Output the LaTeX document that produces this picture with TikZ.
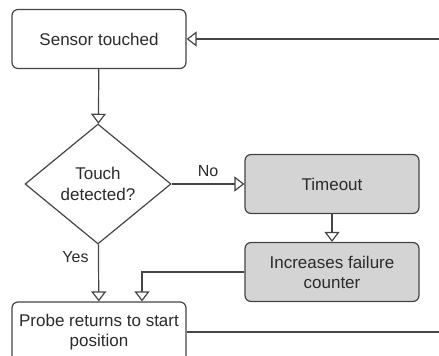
\documentclass[tikz,border=0pt]{standalone}
\usepackage{fontspec}
\setmainfont{Liberation Sans}
\usetikzlibrary{shapes.geometric, arrows.meta, positioning}
\definecolor{flowline}{HTML}{454545}
\definecolor{flowtext}{HTML}{2B2B2B}
\definecolor{flowgray}{HTML}{D4D4D4}

\begin{document}
\begin{tikzpicture}[x=1pt, y=-1pt,
    process/.style={rectangle, rounded corners=6pt, draw=flowline, fill=#1, line width=1.2pt,
                    minimum width=174pt, minimum height=59pt, inner sep=2pt, align=center,
                    font=\fontsize{17}{20}\selectfont, text=flowtext},
    process/.default=white,
    decision/.style={diamond, draw=flowline, fill=white, line width=1.2pt, aspect=1.22,
                     minimum width=146pt, minimum height=120pt, inner sep=0pt, align=center,
                     font=\fontsize{17}{21}\selectfont, text=flowtext},
    arrow/.style={-{Triangle[open, length=10pt, width=15pt, line width=1.2pt]}, line width=1.2pt, draw=flowline},
    label/.style={font=\fontsize{16}{19}\selectfont, text=flowtext}
]
\useasboundingbox (0,0) rectangle (439,356);
\clip (0,0) rectangle (439,356);

\node[process]           (sensor)  at (99,39)   {Sensor touched};
\node[decision]          (touch)   at (98,184)  {Touch\\detected?};
\node[process=flowgray]  (timeout) at (332,184) {Timeout};
\node[process=flowgray]  (fail)    at (332,272) {Increases failure\\counter};
\node[process, minimum height=60pt] (probe) at (99,332) {Probe returns to start\\position};

% loop back from the right edge
\coordinate (loopin)  at (440,39);
\coordinate (loopout) at (440,332);

\draw[arrow] (sensor) -- (touch);
\draw[arrow] (touch) -- node[label, above=3pt] {No} (timeout);
\draw[arrow] (touch) -- node[label, pos=0.22, left=6pt] {Yes} (probe);
\draw[arrow] (timeout) -- (fail);
\draw[arrow] (fail.west) -| ([xshift=43pt]probe.north);
\draw[line width=1.2pt, draw=flowline] (probe) -- (loopout);
\draw[arrow] (loopin) -- (sensor);
\end{tikzpicture}
\end{document}
